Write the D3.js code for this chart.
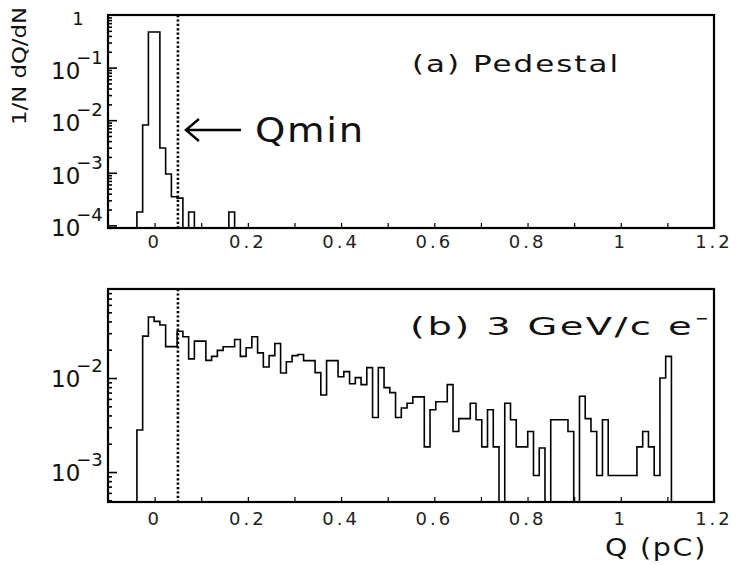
<!DOCTYPE html>
<html>
<head>
<meta charset="utf-8">
<script src="https://cdn.jsdelivr.net/npm/d3@7"></script>
<style>
  body { margin: 0; background: #fff; }
  svg { display: block; font-family: "DejaVu Sans", sans-serif; }
</style>
</head>
<body>
<script>
// histogram binning (pC)
const binStart = -0.038
const binWidth = 0.01233

// (a) pedestal, 1/N dQ/dN per bin (0 = empty)
const pedestal = [1.8e-4, 8.1e-3, 0.475, 0.475, 2.95e-3, 9.5e-4, 3.5e-4, 3.3e-4, 0,
  1.8e-4, 0, 0, 0, 0, 0, 0, 1.8e-4]

// (b) 3 GeV/c electrons
const electrons = [
  0.0028, 0.0279, 0.0446, 0.0400, 0.0366, 0.0216, 0.0216, 0.0315, 0.0275, 0.0160,
  0.0247, 0.0247, 0.0154, 0.0170, 0.0197, 0.0215, 0.0215, 0.0257, 0.0170, 0.0210,
  0.0275, 0.0185, 0.0131, 0.0173, 0.0233, 0.0113, 0.0149, 0.0173, 0.0178, 0.0153,
  0.0153, 0.0114, 0.0066, 0.0153, 0.0153, 0.0103, 0.0117, 0.0087, 0.0101, 0.0085,
  0.0129, 0.0038, 0.0129, 0.0079, 0.0070, 0.0038, 0.0048, 0.0054, 0.0063, 0.0063,
  0.00185, 0.0046, 0.0056, 0.0056, 0.0085, 0.0027, 0.0037, 0.0037, 0.0054, 0.0036,
  0.00185, 0.0046, 0.00185, 0, 0.0054, 0.0036, 0.00185, 0.00185, 0.0027, 0.00092,
  0.0018, 0, 0.0036, 0.0036, 0.0036, 0.0027, 0, 0.0064, 0.0037, 0.0027,
  0.00092, 0.0036, 0.00092, 0.00092, 0.00092, 0.00092, 0.00092, 0.00185, 0.0027, 0.00185,
  0.00092, 0.0100, 0.0170]

const qMin = 0.05
const xTicks = [0, 0.2, 0.4, 0.6, 0.8, 1, 1.2]
const xTickLabels = ["0", "0.2", "0.4", "0.6", "0.8", "1", "1.2"]
const xMinorTicks = d3.range(-0.1, 1.2001, 0.1)
const topDecades = [1e-4, 1e-3, 1e-2, 1e-1]
const topExponents = ["-4", "-3", "-2", "-1"]
const botDecades = [1e-3, 1e-2]
const botExponents = ["-3", "-2"]

const W = 738, H = 565
const svg = d3.select("body").append("svg").attr("width", W).attr("height", H)

const x = d3.scaleLinear([-0.1, 1.2], [108, 714])
const yTop = d3.scaleLog([Math.pow(10, -4.05), 1], [228, 15])
const yBot = d3.scaleLog([4.8e-4, 0.0885], [502, 289])

function histPath(vals, y) {
  const floor = y.range()[0]
  const p = d3.path()
  p.moveTo(x(binStart), floor)
  vals.forEach((v, i) => {
    const yy = v > 0 ? Math.min(y(v), floor) : floor
    p.lineTo(x(binStart + i * binWidth), yy)
    p.lineTo(x(binStart + (i + 1) * binWidth), yy)
  })
  p.lineTo(x(binStart + vals.length * binWidth), floor)
  return p.toString()
}

// wide, round lettering like the original: stretch glyphs to the measured width
function wideText(g, str, xx, yy, size, len) {
  return g.append("text").attr("x", xx).attr("y", yy)
    .attr("font-size", size).attr("fill", "#111").attr("letter-spacing", 1.5)
    .attr("textLength", len).attr("lengthAdjust", "spacingAndGlyphs")
    .text(str)
}

function panel(y, vals, decades, exps, labelDy, xLabelY) {
  const [y0, y1] = y.range()
  const g = svg.append("g")

  g.append("path").attr("d", histPath(vals, y))
    .attr("fill", "none").attr("stroke", "#000").attr("stroke-width", 1.6)

  // Qmin dotted line
  g.append("line")
    .attr("x1", x(qMin)).attr("x2", x(qMin)).attr("y1", y1).attr("y2", y0)
    .attr("stroke", "#000").attr("stroke-width", 2.6).attr("stroke-dasharray", "2.2,2.2")

  // left axis: minor then major ticks, inward
  const minor = y.ticks().filter(t => !decades.includes(t) && t < 1)
  g.append("g").attr("transform", `translate(${x.range()[0]},0)`)
    .call(d3.axisLeft(y).tickValues(minor).tickSize(-4).tickFormat(""))
    .call(a => a.select(".domain").remove())
  g.append("g").attr("transform", `translate(${x.range()[0]},0)`)
    .call(d3.axisLeft(y).tickValues(decades).tickSize(-9).tickFormat(""))
    .call(a => a.select(".domain").remove())
  g.selectAll(".tick line").attr("stroke-width", 1.6)

  // bottom axis ticks, inward, with labels
  g.append("g").attr("transform", `translate(0,${y0})`)
    .call(d3.axisBottom(x).tickValues(xMinorTicks).tickSize(-5).tickFormat(""))
    .call(a => a.select(".domain").remove())
    .selectAll("line").attr("stroke-width", 1.2)
  g.selectAll(null).data(xTicks).join("text")
    .attr("x", d => x(d)).attr("y", xLabelY)
    .attr("text-anchor", "middle").attr("font-size", 18).attr("letter-spacing", 3)
    .attr("fill", "#222")
    .text((d, i) => xTickLabels[i])

  // decade labels 10^n
  decades.forEach((d, i) => {
    const t = g.append("text").attr("x", 51).attr("y", y(d) + labelDy)
      .attr("font-size", 23).attr("fill", "#111")
    t.append("tspan").text("10")
    t.append("tspan").attr("dx", -4).attr("dy", -15).attr("font-size", 18)
      .text(exps[i].replace("-", "\u2212"))
  })

  // frame
  g.append("rect")
    .attr("x", x.range()[0]).attr("y", y1)
    .attr("width", x.range()[1] - x.range()[0]).attr("height", y0 - y1)
    .attr("fill", "none").attr("stroke", "#000").attr("stroke-width", 2.2)
  return g
}

const gTop = panel(yTop, pedestal, topDecades, topExponents, 11, 248)
const gBot = panel(yBot, electrons, botDecades, botExponents, 9, 525)

// label "1" at top of upper axis
gTop.append("text").attr("x", 78).attr("y", yTop(1) + 10)
  .attr("text-anchor", "middle").attr("font-size", 18).attr("fill", "#111").text("1")

// y title
svg.append("text")
  .attr("transform", "translate(26,66) rotate(-90)")
  .attr("text-anchor", "middle").attr("font-size", 19).attr("fill", "#111")
  .attr("textLength", 118).attr("lengthAdjust", "spacingAndGlyphs")
  .text("1/N  dQ/dN")

// panel titles
wideText(gTop, "(a) Pedestal", 412, 72, 23, 208)
wideText(gBot, "(b) 3 GeV/c  e", 410, 335, 24, 284)
gBot.append("text").attr("x", 695).attr("y", 324)
  .attr("font-size", 16).attr("fill", "#111").text("\u2212")

// Qmin arrow
const ax = x(qMin) + 8, ay = 130
gTop.append("path")
  .attr("d", `M${ax + 55},${ay}H${ax}M${ax + 13},${ay - 11}L${ax},${ay}L${ax + 13},${ay + 11}`)
  .attr("fill", "none").attr("stroke", "#000").attr("stroke-width", 2.4)
wideText(gTop, "Qmin", 255, 142, 33, 110)

// x title
wideText(svg, "Q (pC)", 605, 556, 24, 102)
</script>
</body>
</html>
